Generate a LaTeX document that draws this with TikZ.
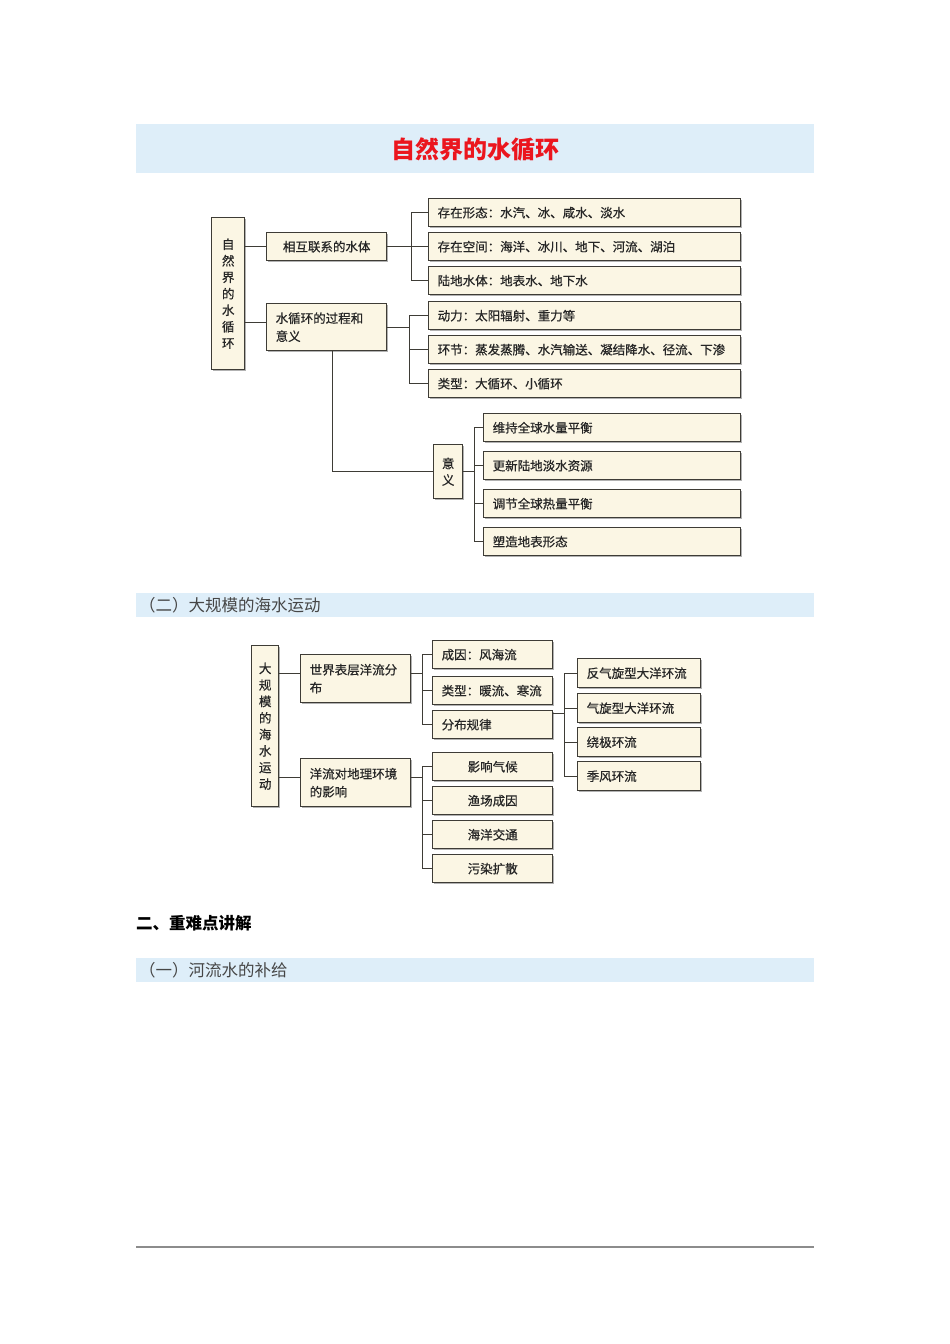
\documentclass[tikz,border=0pt]{standalone}
\usepackage{fontspec}
\setmainfont{Noto Sans CJK SC}
\newfontfamily\cjk{Noto Sans CJK SC}
\newfontfamily\cjkbox[FakeBold=0.6]{Noto Sans CJK SC}
\usepackage{tikz}
\usetikzlibrary{shadows}
\definecolor{boxfill}{RGB}{251,246,228}
\definecolor{boxline}{RGB}{62,60,54}
\definecolor{bandblue}{RGB}{222,238,249}
\definecolor{titlered}{RGB}{235,22,30}
\definecolor{headgray}{RGB}{70,70,70}

\begin{document}
\begin{tikzpicture}[x=1pt, y=-1pt,
  box/.style={rectangle, draw=boxline, fill=boxfill, line width=1.4pt, anchor=north west,
    inner xsep=9pt, inner ysep=0pt, font=\cjkbox\fontsize{12.5}{18}\selectfont, text=black!85,
    drop shadow={shadow xshift=1.2pt, shadow yshift=-1.2pt, opacity=0.3, fill=black}},
  leaf/.style={box, minimum height=28pt, align=left},
  mid/.style={box, minimum width=120pt, minimum height=28pt, text width=102pt, align=left},
  vbox/.style={box, inner xsep=0pt, align=center, font=\cjkbox\fontsize{12.5}{16.5}\selectfont},
  link/.style={draw=boxline, line width=1.3pt},
  band/.style={fill=bandblue, draw=none}]

\useasboundingbox[fill=white] (0,0) rectangle (950,1344);

\fill[band] (136,124) rectangle (814,173);
\node[font=\cjk\bfseries\fontsize{24}{28}\selectfont, text=titlered] (title) at (475,149) {自然界的水循环};

\node[vbox, minimum width=33pt, minimum height=152pt] (r1) at (211,217) {自\\然\\界\\的\\水\\循\\环};
\node[box, minimum width=120pt, minimum height=28pt, align=center] (h1) at (266,232) {相互联系的水体};
\node[leaf, text width=102pt, minimum height=47pt] (h2) at (266,303) {水循环的过程和\\意义};

\node[leaf, text width=294pt] (a1) at (428,198) {存在形态：水汽、冰、咸水、淡水};
\node[leaf, text width=294pt] (a2) at (428,232) {存在空间：海洋、冰川、地下、河流、湖泊};
\node[leaf, text width=294pt] (a3) at (428,266) {陆地水体：地表水、地下水};
\node[leaf, text width=294pt] (b1) at (428,301) {动力：太阳辐射、重力等};
\node[leaf, text width=294pt] (b2) at (428,335) {环节：蒸发蒸腾、水汽输送、凝结降水、径流、下渗};
\node[leaf, text width=294pt] (b3) at (428,369) {类型：大循环、小循环};

\node[vbox, minimum width=29pt, minimum height=54pt] (yy) at (433,444) {意\\义};
\node[leaf, text width=239pt] (c1) at (483,413) {维持全球水量平衡};
\node[leaf, text width=239pt] (c2) at (483,451) {更新陆地淡水资源};
\node[leaf, text width=239pt] (c3) at (483,489) {调节全球热量平衡};
\node[leaf, text width=239pt] (c4) at (483,527) {塑造地表形态};

\draw[link] (r1.east |- h1.west) -- (h1.west);
\draw[link] ([yshift=5pt]r1.east |- h2.west) -- ([yshift=5pt]h2.west);
\foreach \t in {a1,a2,a3} \draw[link] (h1.east) -- ++(24,0) |- (\t.west);
\foreach \t in {b1,b2,b3} \draw[link] (h2.east) -- ++(22,0) |- (\t.west);
\draw[link] ([xshift=6pt]h2.south) |- (yy.west);
\foreach \t in {c1,c2,c3,c4} \draw[link] (yy.east) -- ++(11,0) |- (\t.west);

\fill[band] (136,593) rectangle (814,617);
\node[anchor=west, inner sep=0pt, font=\cjk\fontsize{16.5}{18}\selectfont, text=headgray] (sec2) at (139,605) {（二）大规模的海水运动};

\node[vbox, minimum width=27pt, minimum height=161pt] (r2) at (251,645) {大\\规\\模\\的\\海\\水\\运\\动};
\node[leaf, text width=92pt, minimum height=48pt] (g1) at (300,654) {世界表层洋流分\\布};
\node[leaf, text width=92pt, minimum height=48pt] (g2) at (300,758) {洋流对地理环境\\的影响};

\node[mid] (m1) at (432,640) {成因：风海流};
\node[mid] (m2) at (432,676) {类型：暖流、寒流};
\node[mid] (m3) at (432,710) {分布规律};
\node[mid, align=center] (n1) at (432,752) {影响气候};
\node[mid, align=center] (n2) at (432,786) {渔场成因};
\node[mid, align=center] (n3) at (432,820) {海洋交通};
\node[mid, align=center] (n4) at (432,854) {污染扩散};

\node[leaf, text width=105pt, minimum height=29pt] (p1) at (577,658) {反气旋型大洋环流};
\node[leaf, text width=105pt, minimum height=29pt] (p2) at (577,693) {气旋型大洋环流};
\node[leaf, text width=105pt, minimum height=29pt] (p3) at (577,727) {绕极环流};
\node[leaf, text width=105pt, minimum height=29pt] (p4) at (577,761) {季风环流};

\draw[link] ([yshift=5pt]r2.east |- g1.west) -- ([yshift=5pt]g1.west);
\draw[link] ([yshift=5pt]r2.east |- g2.west) -- ([yshift=5pt]g2.west);
\foreach \t in {m1,m2,m3} \draw[link] ([yshift=5pt]g1.east) -- ++(11,0) |- (\t.west);
\foreach \t in {n1,n2,n3,n4} \draw[link] ([yshift=5pt]g2.east) -- ++(11,0) |- (\t.west);
\foreach \t in {p1,p2,p3,p4} \draw[link] ([yshift=11pt]m3.east) -- ++(11,0) |- (\t.west);

\node[anchor=west, inner sep=0pt, font=\cjk\bfseries\fontsize{16.5}{18}\selectfont] (sec3) at (136,923) {二、重难点讲解};
\fill[band] (136,958) rectangle (814,982);
\node[anchor=west, inner sep=0pt, font=\cjk\fontsize{16.5}{18}\selectfont, text=headgray] (sec4) at (139,970) {（一）河流水的补给};

\draw[draw=black!45, line width=1.5pt] (136,1247) -- (814,1247);
\end{tikzpicture}
\end{document}
